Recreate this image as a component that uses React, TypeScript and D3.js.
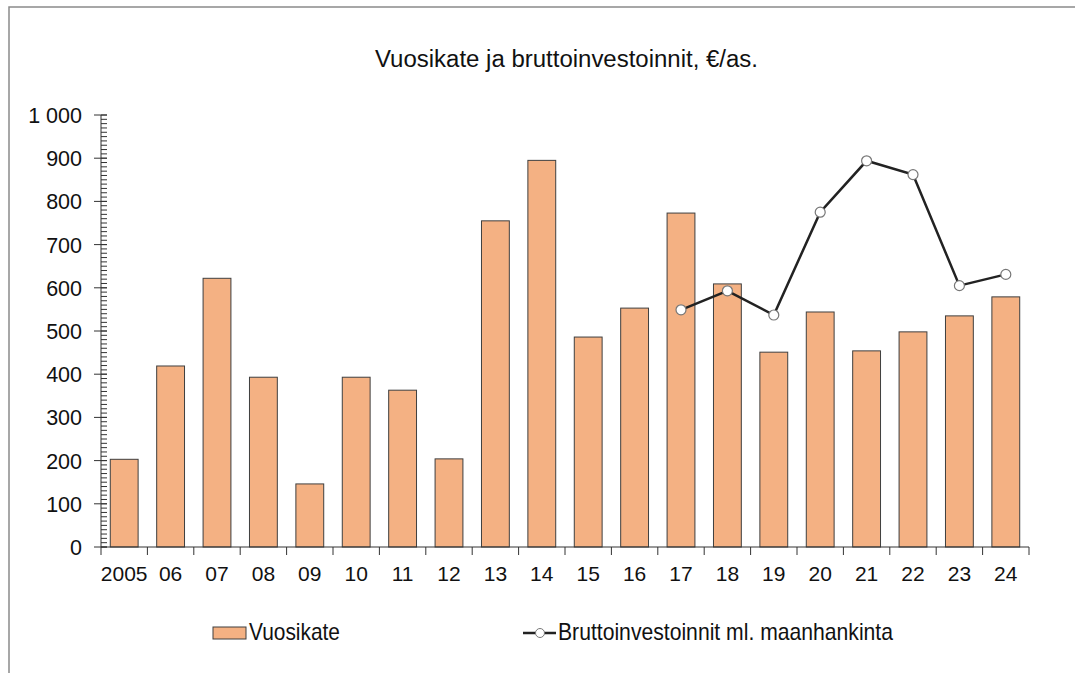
import React, { useEffect, useRef } from 'react'
import * as d3 from 'd3'

const years = ['2005', '06', '07', '08', '09', '10', '11', '12', '13', '14', '15', '16', '17', '18', '19', '20', '21', '22', '23', '24']
const vuosikate = [203, 419, 622, 393, 146, 393, 363, 204, 755, 895, 486, 553, 773, 609, 451, 544, 454, 498, 535, 579]
// investments only from 2017 on
const investYears = ['17', '18', '19', '20', '21', '22', '23', '24']
const investments = [549, 593, 537, 775, 894, 862, 605, 631]
const yTicks = [0, 100, 200, 300, 400, 500, 600, 700, 800, 900, 1000]

const titleText = 'Vuosikate ja bruttoinvestoinnit, €/as.'
const barLabel = 'Vuosikate'
const lineLabel = 'Bruttoinvestoinnit ml. maanhankinta'

const width = 1075
const height = 673
const margin = { left: 101, right: 46, top: 115, bottom: 126 }
const font = '"Liberation Sans", Arial, sans-serif'

const fiLocale = d3.formatLocale({ decimal: ',', thousands: '\u00a0', grouping: [3], currency: ['', ' €'] })
const fmt = fiLocale.format(',d')

function App() {
    const ref = useRef<SVGSVGElement>(null)

    useEffect(() => {
        const svg = d3.select(ref.current)
        svg.selectAll('*').remove()

        const x = d3.scaleBand()
            .domain(years)
            .range([margin.left, width - margin.right])
            .paddingInner(0.4)
            .paddingOuter(0.2)

        const y = d3.scaleLinear()
            .domain([0, 1000])
            .range([height - margin.bottom, margin.top])

        const y0 = y(0)
        const step = x.step()

        // outer frame (only top and left edges visible)
        svg.append('path')
            .attr('d', `M9,${height} V7 H${width}`)
            .attr('fill', 'none')
            .attr('stroke', '#8a8a8a')
            .attr('stroke-width', 1.5)

        svg.append('text')
            .attr('x', 375)
            .attr('y', 67)
            .attr('textLength', 383)
            .attr('lengthAdjust', 'spacingAndGlyphs')
            .attr('font-family', font)
            .attr('font-size', 23)
            .attr('fill', '#111')
            .text(titleText)

        // bars
        svg.append('g')
            .selectAll('rect')
            .data(vuosikate)
            .join('rect')
            .attr('x', (_d, i) => x(years[i]))
            .attr('y', d => y(d))
            .attr('width', x.bandwidth())
            .attr('height', d => y0 - y(d))
            .attr('fill', '#f4b183')
            .attr('stroke', '#3f3f3f')
            .attr('stroke-width', 1)

        // y axis with minor ticks
        const ya = svg.append('g').attr('stroke', '#333').attr('stroke-width', 1)
        ya.append('line')
            .attr('x1', margin.left).attr('x2', margin.left)
            .attr('y1', y(1000)).attr('y2', y0 + 8)
        ya.selectAll('.minor')
            .data(d3.range(0, 1001, 10))
            .join('line')
            .attr('x1', margin.left).attr('x2', margin.left + 6)
            .attr('y1', d => y(d)).attr('y2', d => y(d))
        ya.selectAll('.major')
            .data(yTicks)
            .join('line')
            .attr('x1', margin.left - 7).attr('x2', margin.left + 6)
            .attr('y1', d => y(d)).attr('y2', d => y(d))

        svg.append('g')
            .selectAll('text')
            .data(yTicks)
            .join('text')
            .attr('x', 82)
            .attr('y', d => y(d) + 8)
            .attr('text-anchor', 'end')
            .attr('font-family', font)
            .attr('font-size', 21.5)
            .attr('fill', '#111')
            .text(d => fmt(d))

        // x axis
        const xa = svg.append('g').attr('stroke', '#333').attr('stroke-width', 1)
        xa.append('line')
            .attr('x1', margin.left).attr('x2', width - margin.right)
            .attr('y1', y0).attr('y2', y0)
        xa.selectAll('.tick')
            .data(d3.range(1, years.length + 1))
            .join('line')
            .attr('x1', i => margin.left + i * step).attr('x2', i => margin.left + i * step)
            .attr('y1', y0).attr('y2', y0 + 8)

        svg.append('g')
            .selectAll('text')
            .data(years)
            .join('text')
            .attr('x', d => x(d) + x.bandwidth() / 2)
            .attr('y', 581)
            .attr('text-anchor', 'middle')
            .attr('font-family', font)
            .attr('font-size', 21)
            .attr('fill', '#111')
            .text(d => d)

        // investment line
        const cx = (d: string) => x(d) + x.bandwidth() / 2
        const line = d3.line<number>()
            .x((_d, i) => cx(investYears[i]))
            .y(d => y(d))
        svg.append('path')
            .datum(investments)
            .attr('d', line)
            .attr('fill', 'none')
            .attr('stroke', '#222')
            .attr('stroke-width', 2.5)
        svg.append('g')
            .selectAll('circle')
            .data(investments)
            .join('circle')
            .attr('cx', (_d, i) => cx(investYears[i]))
            .attr('cy', d => y(d))
            .attr('r', 5)
            .attr('fill', '#fff')
            .attr('stroke', '#777')
            .attr('stroke-width', 1.2)

        // legend (condensed text like the original)
        const lg = svg.append('g').attr('font-family', font).attr('font-size', 24).attr('fill', '#111')
        lg.append('rect')
            .attr('x', 213).attr('y', 627).attr('width', 33).attr('height', 12)
            .attr('fill', '#f4b183').attr('stroke', '#3f3f3f')
        lg.append('text').attr('x', 249).attr('y', 640)
            .attr('textLength', 91).attr('lengthAdjust', 'spacingAndGlyphs')
            .text(barLabel)
        lg.append('line')
            .attr('x1', 523).attr('x2', 556).attr('y1', 633).attr('y2', 633)
            .attr('stroke', '#222').attr('stroke-width', 2.5)
        lg.append('circle')
            .attr('cx', 540).attr('cy', 633).attr('r', 4.5)
            .attr('fill', '#fff').attr('stroke', '#777')
        lg.append('text').attr('x', 558).attr('y', 640)
            .attr('textLength', 335).attr('lengthAdjust', 'spacingAndGlyphs')
            .text(lineLabel)
    }, [])

    return (
        <div style={{ position: 'absolute', left: 0, top: 0, width, height, background: '#fff' }}>
            <svg ref={ref} width={width} height={height} />
        </div>
    )
}

export default App
